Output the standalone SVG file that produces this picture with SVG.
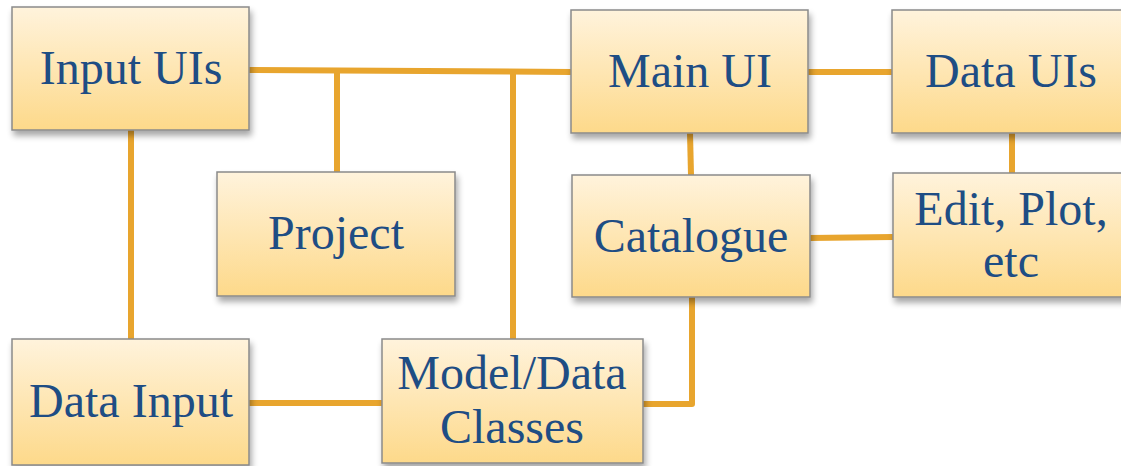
<svg xmlns="http://www.w3.org/2000/svg" width="1121" height="466" viewBox="0 0 1121 466">
<defs>
<linearGradient id="g" x1="0" y1="0" x2="0" y2="1">
<stop offset="0" stop-color="#FFF3DC"/>
<stop offset="1" stop-color="#FDD98A"/>
</linearGradient>
<filter id="sh" x="-10%" y="-10%" width="125%" height="130%">
<feGaussianBlur in="SourceAlpha" stdDeviation="3"/>
<feOffset dx="2" dy="5" result="b"/>
<feComponentTransfer><feFuncA type="linear" slope="0.35"/></feComponentTransfer>
<feMerge><feMergeNode/><feMergeNode in="SourceGraphic"/></feMerge>
</filter>
<style>
.box{fill:url(#g);stroke:#8A8A8A;stroke-width:1.5;filter:url(#sh)}
.t{font-family:"Liberation Serif",serif;font-size:48px;fill:#1E4D84;text-anchor:middle}
.c{fill:none;stroke:#E8A52E;stroke-width:6;stroke-linejoin:round}
</style>
</defs>
<g id="connectors">
<path class="c" d="M249,70 L571,72"/>
<path class="c" d="M337,70 V172"/>
<path class="c" d="M513,72 V339"/>
<path class="c" d="M131,130 V339"/>
<path class="c" d="M249,403 H382"/>
<path class="c" d="M643,404 H692 V297"/>
<path class="c" d="M690,133 L691,175"/>
<path class="c" d="M808,72 H892"/>
<path class="c" d="M1012,133 V173"/>
<path class="c" d="M810,238 L893,237"/>
</g>
<g id="input-uis"><rect class="box" x="12" y="7" width="237" height="123"/><text class="t" font-family="Liberation Serif" x="131" y="84">Input UIs</text></g>
<g id="main-ui"><rect class="box" x="571" y="10" width="237" height="123"/><text class="t" font-family="Liberation Serif" x="690" y="87">Main UI</text></g>
<g id="data-uis"><rect class="box" x="892" y="10" width="238" height="123"/><text class="t" font-family="Liberation Serif" x="1011" y="87">Data UIs</text></g>
<g id="project"><rect class="box" x="217" y="172" width="238" height="124"/><text class="t" font-family="Liberation Serif" x="336" y="249">Project</text></g>
<g id="catalogue"><rect class="box" x="572" y="175" width="238" height="122"/><text class="t" font-family="Liberation Serif" x="691" y="252">Catalogue</text></g>
<g id="edit-plot"><rect class="box" x="893" y="173" width="238" height="124"/><text class="t" font-family="Liberation Serif" x="1011" y="225">Edit, Plot,</text><text class="t" font-family="Liberation Serif" x="1011" y="277">etc</text></g>
<g id="data-input"><rect class="box" x="12" y="339" width="237" height="126"/><text class="t" font-family="Liberation Serif" x="131" y="417">Data Input</text></g>
<g id="model-data"><rect class="box" x="382" y="339" width="261" height="124"/><text class="t" font-family="Liberation Serif" x="512" y="389">Model/Data</text><text class="t" font-family="Liberation Serif" x="512" y="443">Classes</text></g>
</svg>
